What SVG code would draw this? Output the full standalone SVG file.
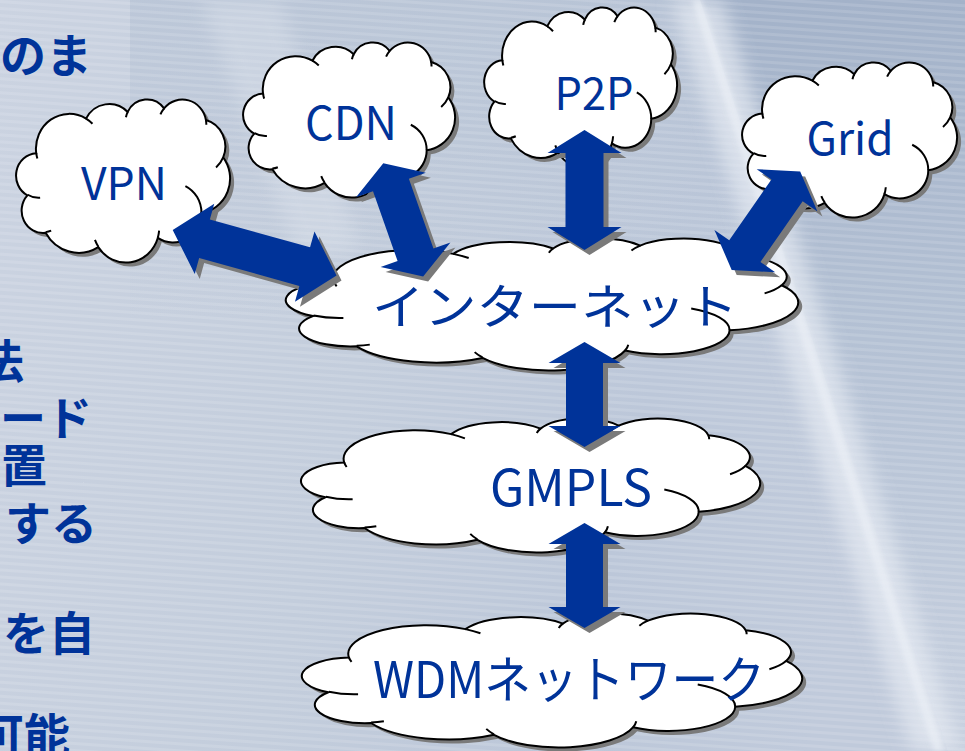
<svg xmlns="http://www.w3.org/2000/svg" width="965" height="751" viewBox="0 0 965 751">
<style>
.cloud{fill:#ffffff;stroke:#000000;stroke-width:2}
.cshadow{fill:#7a7a7a;stroke:none}
.inner{stroke:#000000;stroke-width:2}
.arrow{fill:#003399}
.ashadow{fill:#7a7a7a}
.label{font-family:"Noto Sans CJK JP","Noto Sans",sans-serif;fill:#003399;text-anchor:middle}
.side{font-family:"Noto Sans CJK JP","Noto Sans",sans-serif;font-weight:bold;font-size:46px;fill:#003399}
</style>
<defs>
<linearGradient id="bg" x1="0" y1="0" x2="1" y2="0.2">
<stop offset="0" stop-color="#cbd3e1"/>
<stop offset="0.45" stop-color="#c3cddc"/>
<stop offset="0.75" stop-color="#bcc7d9"/>
<stop offset="1" stop-color="#c0cadb"/>
</linearGradient>
<linearGradient id="rightdark" x1="0" y1="0" x2="0" y2="1">
<stop offset="0" stop-color="#a3b2c9"/>
<stop offset="0.45" stop-color="#b4c1d4"/>
<stop offset="1" stop-color="#c7d0df"/>
</linearGradient>
<linearGradient id="topband" x1="0" y1="0" x2="0" y2="1">
<stop offset="0" stop-color="#b3c0d3" stop-opacity="0.6"/>
<stop offset="1" stop-color="#b3c0d3" stop-opacity="0"/>
</linearGradient>
<pattern id="stripes" width="14" height="7" patternUnits="userSpaceOnUse" patternTransform="rotate(4)">
<rect width="14" height="3" fill="#ffffff" opacity="0.12"/>
</pattern>
<filter id="blur" x="-30%" y="-10%" width="160%" height="120%"><feGaussianBlur stdDeviation="9"/></filter>
<filter id="blur2" x="-30%" y="-10%" width="160%" height="120%"><feGaussianBlur stdDeviation="2.5"/></filter>
<path id="cloudOuter" vector-effect="non-scaling-stroke" d="M9.03 33.26A15.63 21.27 0 0 1 32.42 12.04A12.34 16.82 0 0 1 51.98 7.94A10.10 13.76 0 0 1 69.06 5.74A11.24 15.27 0 0 1 88.70 12.91A12.34 16.84 0 0 1 96.80 35.79A15.68 21.34 0 0 1 86.59 69.91A13.39 18.21 0 0 1 66.10 85.22A15.63 21.33 0 0 1 38.15 90.89A17.87 24.41 0 0 1 13.44 82.10A10.09 13.70 0 0 1 4.89 59.14A10.06 13.76 0 0 1 9.03 33.26Z"/>
<path id="cloudInner" vector-effect="non-scaling-stroke" fill="none" d="M10.86 60.59A10.06 13.76 0 0 1 5.00 58.75M16.04 80.78A10.09 13.70 0 0 1 13.47 81.67M38.14 90.49A15.63 21.33 0 0 1 36.60 86.46M66.72 80.80A15.63 21.33 0 0 1 66.10 85.22M79.06 53.40A13.39 18.21 0 0 1 86.59 69.91M96.80 35.79A12.34 16.84 0 0 1 93.45 41.98M88.70 12.91A11.24 15.27 0 0 1 88.88 15.83M67.34 9.47A11.24 15.27 0 0 1 69.06 5.74M51.15 11.16A10.10 13.76 0 0 1 51.98 7.94M32.42 12.04A15.63 21.27 0 0 1 35.43 15.16M9.55 36.55A15.63 21.27 0 0 1 9.03 33.26"/>
<polygon id="arrow120" points="0,0 23,-37 23,-19 97,-19 97,-37 120,0 97,37 97,19 23,19 23,37"/>
<polygon id="arrow105" points="0,0 21,-36 21,-18.5 84,-18.5 84,-36 105,0 84,36 84,18.5 21,18.5 21,36"/>
<polygon id="arrow170" points="0,0 33,-36.5 33,-20 137,-20 137,-36.5 170,0 137,36.5 137,20 33,20 33,36.5"/>
</defs>

<g id="background">
<rect width="965" height="751" fill="url(#bg)"/>
<rect x="130" width="835" height="320" fill="url(#topband)"/>
<path d="M700 0L965 0L965 751L948 751Z" fill="url(#rightdark)"/>
<rect width="965" height="751" fill="url(#stripes)"/>
<path d="M672 0L722 0L960 751L912 751Z" fill="#e6ebf3" opacity="0.7" filter="url(#blur)"/>
<path d="M692 0L702 0L944 751L934 751Z" fill="#eef2f8" opacity="0.6" filter="url(#blur2)"/>
<path d="M200 0L280 0L360 250L300 260Z" fill="#e3e8f0" opacity="0.35" filter="url(#blur)"/>
</g>

<g id="side-text">
<text class="side" x="0" y="72">のま</text>
<text class="side" x="-22" y="378">法</text>
<text class="side" x="0" y="435">ード</text>
<text class="side" x="1" y="482">置</text>
<text class="side" x="5" y="540">する</text>
<text class="side" x="3" y="650">を自</text>
<text class="side" x="-22" y="752">可能</text>
</g>

<g id="node-vpn">
<use href="#cloudOuter" class="cshadow" transform="translate(21,103) scale(2.13,1.63)"/>
<g transform="translate(17,99) scale(2.13,1.63)"><use href="#cloudOuter" class="cloud"/><use href="#cloudInner" class="inner"/></g>
<text class="label" x="124" y="200" font-size="45" textLength="86" lengthAdjust="spacingAndGlyphs">VPN</text>
</g>

<g id="node-cdn">
<use href="#cloudOuter" class="cshadow" transform="translate(248,46) scale(2.11,1.55)"/>
<g transform="translate(244,42) scale(2.11,1.55)"><use href="#cloudOuter" class="cloud"/><use href="#cloudInner" class="inner"/></g>
<text class="label" x="351" y="140" font-size="46" textLength="92" lengthAdjust="spacingAndGlyphs">CDN</text>
</g>

<g id="node-p2p">
<use href="#cloudOuter" class="cshadow" transform="translate(489,11) scale(1.92,1.60)"/>
<g transform="translate(485,7) scale(1.92,1.60)"><use href="#cloudOuter" class="cloud"/><use href="#cloudInner" class="inner"/></g>
<text class="label" x="594" y="110" font-size="45" textLength="79" lengthAdjust="spacingAndGlyphs">P2P</text>
</g>

<g id="node-grid">
<use href="#cloudOuter" class="cshadow" transform="translate(747,66) scale(2.14,1.55)"/>
<g transform="translate(743,62) scale(2.14,1.55)"><use href="#cloudOuter" class="cloud"/><use href="#cloudInner" class="inner"/></g>
<text class="label" x="850" y="155" font-size="45" textLength="87" lengthAdjust="spacingAndGlyphs">Grid</text>
</g>

<g id="node-internet">
<use href="#cloudOuter" class="cshadow" transform="translate(292,242) scale(5.10,1.32)"/>
<g transform="translate(288,238) scale(5.10,1.32)"><use href="#cloudOuter" class="cloud"/><use href="#cloudInner" class="inner"/></g>
<text class="label" x="555" y="324" font-size="48" textLength="366" lengthAdjust="spacingAndGlyphs">インターネット</text>
</g>

<g id="node-gmpls">
<use href="#cloudOuter" class="cshadow" transform="translate(307,422) scale(4.57,1.34)"/>
<g transform="translate(303,418) scale(4.57,1.34)"><use href="#cloudOuter" class="cloud"/><use href="#cloudInner" class="inner"/></g>
<text class="label" x="571" y="506" font-size="50" textLength="162" lengthAdjust="spacingAndGlyphs">GMPLS</text>
</g>

<g id="node-wdm">
<use href="#cloudOuter" class="cshadow" transform="translate(308,617) scale(4.98,1.34)"/>
<g transform="translate(304,613) scale(4.98,1.34)"><use href="#cloudOuter" class="cloud"/><use href="#cloudInner" class="inner"/></g>
<text class="label" x="569" y="698" font-size="50" textLength="392" lengthAdjust="spacingAndGlyphs">WDMネットワーク</text>
</g>

<g id="connectors">
<use href="#arrow170" class="ashadow" transform="translate(177.7,235) rotate(15.5)"/>
<use href="#arrow120" class="ashadow" transform="translate(388.3,168.3) rotate(70.6)"/>
<use href="#arrow120" class="ashadow" transform="translate(589.5,135) rotate(90)"/>
<use href="#arrow120" class="ashadow" transform="translate(736.7,275) rotate(-55.2)"/>
<use href="#arrow105" class="ashadow" transform="translate(589.5,347) rotate(90)"/>
<use href="#arrow105" class="ashadow" transform="translate(589.5,528) rotate(90)"/>
<use href="#arrow170" class="arrow" transform="translate(172.7,230) rotate(15.5)"/>
<use href="#arrow120" class="arrow" transform="translate(383.3,163.3) rotate(70.6)"/>
<use href="#arrow120" class="arrow" transform="translate(584.5,130) rotate(90)"/>
<use href="#arrow120" class="arrow" transform="translate(731.7,270) rotate(-55.2)"/>
<use href="#arrow105" class="arrow" transform="translate(584.5,342) rotate(90)"/>
<use href="#arrow105" class="arrow" transform="translate(584.5,523) rotate(90)"/>
</g>
</svg>
